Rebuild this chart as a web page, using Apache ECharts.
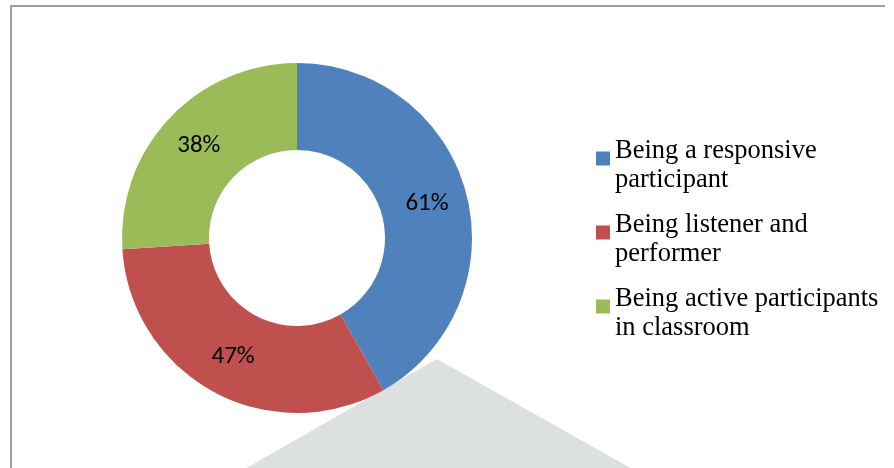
<!DOCTYPE html>
<html>
<head>
<meta charset="utf-8">
<script src="https://cdn.jsdelivr.net/npm/echarts@6/dist/echarts.min.js"></script>
<style>
html,body{margin:0;padding:0;background:#fff;}
#chart{width:894px;height:468px;}
</style>
</head>
<body>
<div id="chart"></div>
<script>
var categories = ['Being a responsive\nparticipant', 'Being listener and\nperformer', 'Being active participants\nin classroom'];
var values = [61, 47, 38];
var colors = ['#4F81BD', '#C0504D', '#9BBB59'];

var chart = echarts.init(document.getElementById('chart'), null, {renderer: 'canvas'});
var option = {
  backgroundColor: '#ffffff',
  animation: false,
  graphic: [
    {type: 'polygon', z: 0, shape: {points: [[243, 470], [437, 359], [634, 470]]}, style: {fill: '#DCE1DF'}},
    {type: 'line', shape: {x1: 10, y1: 6, x2: 885, y2: 6}, style: {stroke: '#9E9E9E', lineWidth: 2}},
    {type: 'line', shape: {x1: 11, y1: 5, x2: 11, y2: 470}, style: {stroke: '#9E9E9E', lineWidth: 2}}
  ],
  legend: {
    orient: 'vertical',
    left: 596,
    top: 137,
    padding: 0,
    itemWidth: 14,
    itemHeight: 29,
    itemGap: 16,
    icon: 'path://M0,0h14v14h-14z M0,28.99h0.01v0.01h-0.01z',
    selectedMode: false,
    textStyle: {
      fontFamily: '"Liberation Serif", "Times New Roman", serif',
      fontSize: 26.5,
      lineHeight: 29,
      color: '#000'
    },
    data: categories
  },
  series: [{
    type: 'pie',
    center: [297, 238],
    radius: [88, 175],
    startAngle: 90,
    clockwise: true,
    avoidLabelOverlap: false,
    label: {
      show: true,
      position: 'inside',
      formatter: '{c}%',
      fontFamily: 'Carlito, Calibri, Lato, sans-serif',
      fontSize: 25,
      color: '#000'
    },
    labelLine: {show: false},
    emphasis: {disabled: true},
    data: categories.map(function (c, i) {
      return {name: c, value: values[i], itemStyle: {color: colors[i]}};
    })
  }]
};
chart.setOption(option);
</script>
</body>
</html>
